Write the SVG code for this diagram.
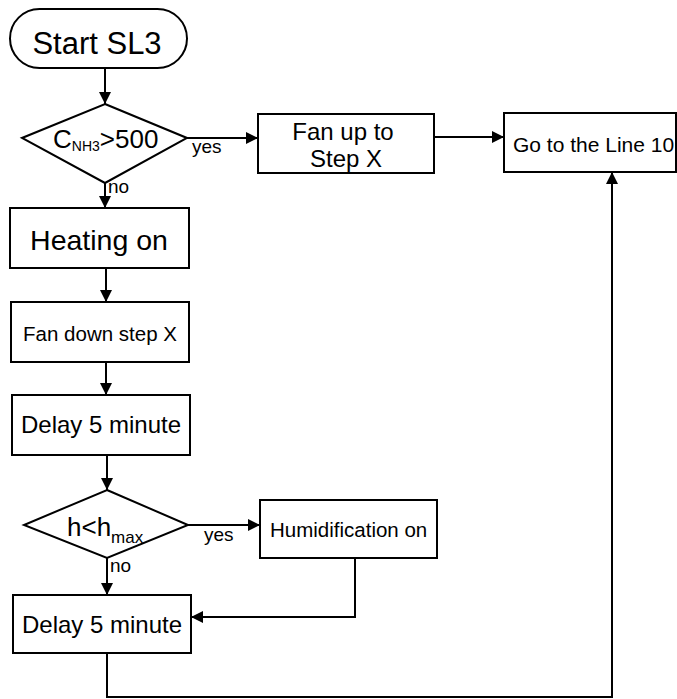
<svg xmlns="http://www.w3.org/2000/svg" width="677" height="699" viewBox="0 0 677 699">
<style>
.box{fill:#fff;stroke:#000;stroke-width:2}
.ln{fill:none;stroke:#000;stroke-width:2;marker-end:url(#ah)}
.ln2{fill:none;stroke:#000;stroke-width:2}
text{font-family:"Liberation Sans",Arial,sans-serif;fill:#000}
.c{text-anchor:middle}
</style>
<defs>
<marker id="ah" markerUnits="userSpaceOnUse" markerWidth="13" markerHeight="13" refX="12" refY="6" orient="auto">
<path d="M0,0 L12,6 L0,12 z" fill="#000"/>
</marker>
</defs>
<rect width="677" height="699" fill="#fff"/>
<g id="connectors">
<path class="ln" d="M105,68 V104"/>
<path class="ln" d="M187,138 H258"/>
<path class="ln" d="M105,183 V208"/>
<path class="ln" d="M106,268 V302"/>
<path class="ln" d="M106,362 V395"/>
<path class="ln" d="M107,455 V490"/>
<path class="ln" d="M188,525 H260"/>
<path class="ln" d="M107,558 V595"/>
<path class="ln" d="M434,137 H504"/>
<path class="ln" d="M355,558 V617 H191"/>
<path class="ln" d="M107,653 V697 H612 V172"/>
<text x="192" y="153" font-size="19">yes</text>
<text x="108" y="193" font-size="19">no</text>
<text x="204" y="541" font-size="19">yes</text>
<text x="110" y="572" font-size="19">no</text>
</g>
<g id="start">
<rect class="box" x="10" y="9" width="177" height="59" rx="29.5"/>
<text class="c" x="97" y="54" font-size="31">Start SL3</text>
</g>
<g id="d1">
<polygon class="box" points="105,104 187,138 105,183 22,138"/>
<text x="53" y="148" font-size="26">C<tspan font-size="14" dy="3">NH3</tspan><tspan dy="-3">&gt;500</tspan></text>
</g>
<g id="fanup">
<rect class="box" x="258" y="114" width="176" height="59"/>
<text class="c" x="343" y="140" font-size="24">Fan up to</text>
<text class="c" x="346" y="167" font-size="24">Step X</text>
</g>
<g id="goto">
<rect class="box" x="504" y="113" width="172" height="59"/>
<text x="513" y="152" font-size="21">Go to the Line 10</text>
</g>
<g id="heating">
<rect class="box" x="10" y="208" width="179" height="60"/>
<text class="c" x="99" y="250" font-size="28.5">Heating on</text>
</g>
<g id="fandown">
<rect class="box" x="11" y="302" width="178" height="60"/>
<text class="c" x="100" y="341" font-size="20.5">Fan down step X</text>
</g>
<g id="delay1">
<rect class="box" x="12" y="395" width="178" height="60"/>
<text class="c" x="101" y="433" font-size="24">Delay 5 minute</text>
</g>
<g id="d2">
<polygon class="box" points="107,490 188,525 107,558 24,525"/>
<text x="67" y="536" font-size="26">h&lt;h<tspan font-size="17" dy="7">max</tspan></text>
</g>
<g id="humid">
<rect class="box" x="260" y="500" width="177" height="58"/>
<text x="270" y="537" font-size="20.5">Humidification on</text>
</g>
<g id="delay2">
<rect class="box" x="13" y="595" width="178" height="58"/>
<text class="c" x="102" y="633" font-size="24">Delay 5 minute</text>
</g>
</svg>
